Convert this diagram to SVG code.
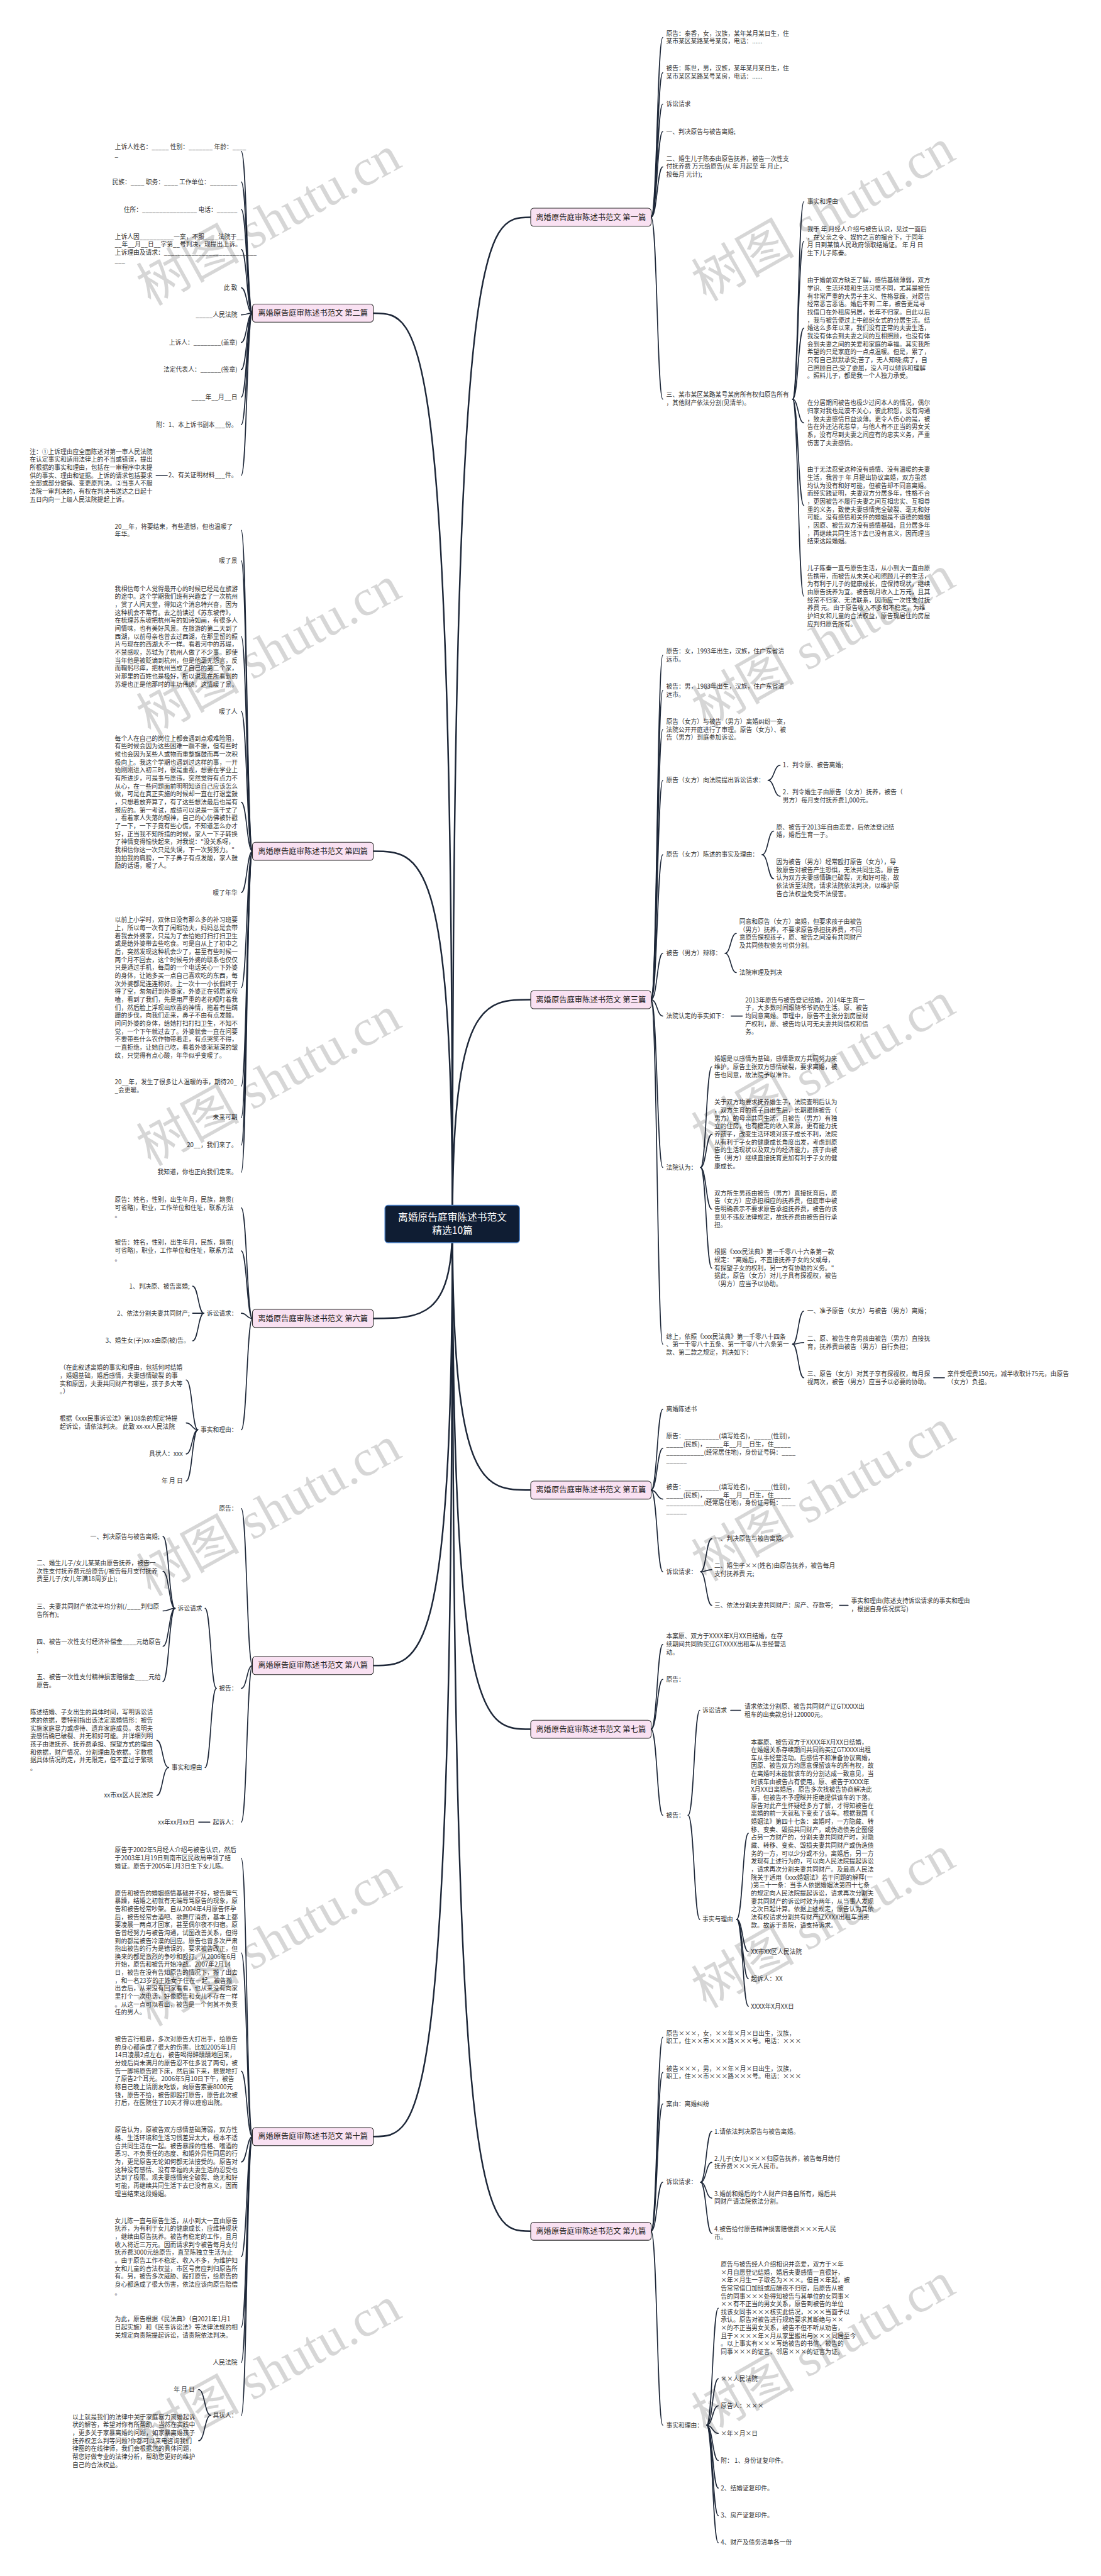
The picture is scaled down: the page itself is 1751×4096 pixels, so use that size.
<svg xmlns="http://www.w3.org/2000/svg" width="1751" height="4096" viewBox="0 0 1751 4096">
<style>
.t{font-family:"Noto Sans CJK SC","Noto Sans",sans-serif;font-size:14.3px;fill:#333}
.r{text-anchor:end}
.bn rect{fill:#f9e1f2;stroke:#2b2b2b;stroke-width:1.6}
.bn text{font-family:"Noto Sans CJK SC","Noto Sans",sans-serif;font-size:18px;fill:#222;text-anchor:middle}
#connectors path{fill:none;stroke:#1d2738;stroke-width:2.4;stroke-linecap:round}
#connectors path.m{stroke-width:3.6}
.wm{font-family:"Liberation Serif","Noto Sans CJK SC",serif;font-size:120px;fill:#000;fill-opacity:0.16}
</style>
<rect width="1751" height="4096" fill="#fff"/>
<g transform="scale(0.68398)">
<g id="connectors">
<path class="m" d="M1052,2846 C1052,505 1125,505 1234,505"/>
<path class="m" d="M1052,2846 C1052,2324 1125,2324 1234,2324"/>
<path class="m" d="M1052,2846 C1052,3464 1125,3464 1234,3464"/>
<path class="m" d="M1052,2846 C1052,4020 1125,4020 1234,4020"/>
<path class="m" d="M1052,2846 C1052,5187 1125,5187 1234,5187"/>
<path class="m" d="M1052,2846 C1052,728 978,728 868,728"/>
<path class="m" d="M1052,2846 C1052,1979 978,1979 868,1979"/>
<path class="m" d="M1052,2846 C1052,3065 978,3065 868,3065"/>
<path class="m" d="M1052,2846 C1052,3872 978,3872 868,3872"/>
<path class="m" d="M1052,2846 C1052,4967 978,4967 868,4967"/>
<!-- 第一篇 -->
<path d="M1514,505 C1528,505 1528,87 1541,87"/>
<path d="M1514,505 C1528,505 1528,169 1541,169"/>
<path d="M1514,505 C1528,505 1528,242 1541,242"/>
<path d="M1514,505 C1528,505 1528,306 1541,306"/>
<path d="M1514,505 C1528,505 1528,388 1541,388"/>
<path d="M1514,505 C1528,505 1528,928 1541,928"/>
<path d="M1843,928 C1856,928 1856,469 1869,469"/>
<path d="M1843,928 C1856,928 1856,561 1869,561"/>
<path d="M1843,928 C1856,928 1856,763 1869,763"/>
<path d="M1843,928 C1856,928 1856,983 1869,983"/>
<path d="M1843,928 C1856,928 1856,1175 1869,1175"/>
<path d="M1843,928 C1856,928 1856,1386 1869,1386"/>
<!-- 第三篇 -->
<path d="M1514,2324 C1528,2324 1528,1523 1541,1523"/>
<path d="M1514,2324 C1528,2324 1528,1605 1541,1605"/>
<path d="M1514,2324 C1528,2324 1528,1696 1541,1696"/>
<path d="M1514,2324 C1528,2324 1528,1814 1541,1814"/>
<path d="M1514,2324 C1528,2324 1528,1987 1541,1987"/>
<path d="M1514,2324 C1528,2324 1528,2216 1541,2216"/>
<path d="M1514,2324 C1528,2324 1528,2362 1541,2362"/>
<path d="M1514,2324 C1528,2324 1528,2714 1541,2714"/>
<path d="M1514,2324 C1528,2324 1528,3125 1541,3125"/>
<path d="M1786,1814 C1800,1814 1800,1779 1814,1779"/>
<path d="M1786,1814 C1800,1814 1800,1851 1814,1851"/>
<path d="M1772,1987 C1786,1987 1786,1932 1799,1932"/>
<path d="M1772,1987 C1786,1987 1786,2043 1799,2043"/>
<path d="M1686,2216 C1699,2216 1699,2170 1712,2170"/>
<path d="M1686,2216 C1699,2216 1699,2261 1712,2261"/>
<path d="M1700,2362 H1726"/>
<path d="M1629,2714 C1642,2714 1642,2480 1655,2480"/>
<path d="M1629,2714 C1642,2714 1642,2637 1655,2637"/>
<path d="M1629,2714 C1642,2714 1642,2811 1655,2811"/>
<path d="M1629,2714 C1642,2714 1642,2948 1655,2948"/>
<path d="M1843,3125 C1856,3125 1856,3048 1869,3048"/>
<path d="M1843,3125 C1856,3125 1856,3121 1869,3121"/>
<path d="M1843,3125 C1856,3125 1856,3203 1869,3203"/>
<path d="M2171,3203 H2196"/>
<!-- 第五篇 -->
<path d="M1514,3464 C1528,3464 1528,3276 1541,3276"/>
<path d="M1514,3464 C1528,3464 1528,3367 1541,3367"/>
<path d="M1514,3464 C1528,3464 1528,3485 1541,3485"/>
<path d="M1514,3464 C1528,3464 1528,3654 1541,3654"/>
<path d="M1629,3654 C1642,3654 1642,3577 1655,3577"/>
<path d="M1629,3654 C1642,3654 1642,3649 1655,3649"/>
<path d="M1629,3654 C1642,3654 1642,3732 1655,3732"/>
<path d="M1952,3732 H1972"/>
<!-- 第七篇 -->
<path d="M1514,4020 C1528,4020 1528,3823 1541,3823"/>
<path d="M1514,4020 C1528,4020 1528,3904 1541,3904"/>
<path d="M1514,4020 C1528,4020 1528,4220 1541,4220"/>
<path d="M1600,4220 C1614,4220 1614,3976 1627,3976"/>
<path d="M1600,4220 C1614,4220 1614,4462 1627,4462"/>
<path d="M1699,3976 H1722"/>
<path d="M1713,4462 C1727,4462 1727,4262 1740,4262"/>
<path d="M1713,4462 C1727,4462 1727,4537 1740,4537"/>
<path d="M1713,4462 C1727,4462 1727,4600 1740,4600"/>
<path d="M1713,4462 C1727,4462 1727,4664 1740,4664"/>
<!-- 第九篇 -->
<path d="M1514,5187 C1528,5187 1528,4736 1541,4736"/>
<path d="M1514,5187 C1528,5187 1528,4818 1541,4818"/>
<path d="M1514,5187 C1528,5187 1528,4891 1541,4891"/>
<path d="M1514,5187 C1528,5187 1528,5073 1541,5073"/>
<path d="M1514,5187 C1528,5187 1528,5638 1541,5638"/>
<path d="M1629,5073 C1642,5073 1642,4955 1655,4955"/>
<path d="M1629,5073 C1642,5073 1642,5027 1655,5027"/>
<path d="M1629,5073 C1642,5073 1642,5110 1655,5110"/>
<path d="M1629,5073 C1642,5073 1642,5192 1655,5192"/>
<path d="M1643,5638 C1657,5638 1657,5366 1670,5366"/>
<path d="M1643,5638 C1657,5638 1657,5530 1670,5530"/>
<path d="M1643,5638 C1657,5638 1657,5593 1670,5593"/>
<path d="M1643,5638 C1657,5638 1657,5657 1670,5657"/>
<path d="M1643,5638 C1657,5638 1657,5720 1670,5720"/>
<path d="M1643,5638 C1657,5638 1657,5784 1670,5784"/>
<path d="M1643,5638 C1657,5638 1657,5848 1670,5848"/>
<path d="M1643,5638 C1657,5638 1657,5911 1670,5911"/>
<!-- 第二篇 -->
<path d="M587,728 C574,728 574,352 561,352"/>
<path d="M587,728 C574,728 574,423 561,423"/>
<path d="M587,728 C574,728 574,487 561,487"/>
<path d="M587,728 C574,728 574,580 561,580"/>
<path d="M587,728 C574,728 574,669 561,669"/>
<path d="M587,728 C574,728 574,732 561,732"/>
<path d="M587,728 C574,728 574,796 561,796"/>
<path d="M587,728 C574,728 574,859 561,859"/>
<path d="M587,728 C574,728 574,923 561,923"/>
<path d="M587,728 C574,728 574,987 561,987"/>
<path d="M587,728 C574,728 574,1105 561,1105"/>
<path d="M389,1105 H363"/>
<!-- 第四篇 -->
<path d="M587,1979 C574,1979 574,1233 561,1233"/>
<path d="M587,1979 C574,1979 574,1304 561,1304"/>
<path d="M587,1979 C574,1979 574,1480 561,1480"/>
<path d="M587,1979 C574,1979 574,1654 561,1654"/>
<path d="M587,1979 C574,1979 574,1865 561,1865"/>
<path d="M587,1979 C574,1979 574,2075 561,2075"/>
<path d="M587,1979 C574,1979 574,2296 561,2296"/>
<path d="M587,1979 C574,1979 574,2525 561,2525"/>
<path d="M587,1979 C574,1979 574,2598 561,2598"/>
<path d="M587,1979 C574,1979 574,2662 561,2662"/>
<path d="M587,1979 C574,1979 574,2725 561,2725"/>
<!-- 第六篇 -->
<path d="M587,3065 C574,3065 574,2808 561,2808"/>
<path d="M587,3065 C574,3065 574,2908 561,2908"/>
<path d="M587,3065 C574,3065 574,3053 561,3053"/>
<path d="M587,3065 C574,3065 574,3324 561,3324"/>
<path d="M474,3053 C461,3053 461,2990 448,2990"/>
<path d="M474,3053 H448"/>
<path d="M474,3053 C461,3053 461,3117 448,3117"/>
<path d="M460,3324 C447,3324 447,3208 433,3208"/>
<path d="M460,3324 C447,3324 447,3308 433,3308"/>
<path d="M460,3324 C447,3324 447,3380 433,3380"/>
<path d="M460,3324 C447,3324 447,3443 433,3443"/>
<!-- 第八篇 -->
<path d="M587,3872 C574,3872 574,3507 561,3507"/>
<path d="M587,3872 C574,3872 574,3925 561,3925"/>
<path d="M587,3872 C574,3872 574,4236 561,4236"/>
<path d="M503,3925 C490,3925 490,3739 477,3739"/>
<path d="M503,3925 C490,3925 490,4109 477,4109"/>
<path d="M407,3739 C393,3739 393,3572 379,3572"/>
<path d="M407,3739 C393,3739 393,3653 379,3653"/>
<path d="M407,3739 C393,3739 393,3745 379,3745"/>
<path d="M407,3739 C393,3739 393,3827 379,3827"/>
<path d="M407,3739 C393,3739 393,3909 379,3909"/>
<path d="M392,4109 C378,4109 378,4046 365,4046"/>
<path d="M392,4109 C378,4109 378,4174 365,4174"/>
<path d="M488,4236 H462"/>
<!-- 第十篇 -->
<path d="M587,4967 C574,4967 574,4320 561,4320"/>
<path d="M587,4967 C574,4967 574,4540 561,4540"/>
<path d="M587,4967 C574,4967 574,4815 561,4815"/>
<path d="M587,4967 C574,4967 574,5026 561,5026"/>
<path d="M587,4967 C574,4967 574,5246 561,5246"/>
<path d="M587,4967 C574,4967 574,5410 561,5410"/>
<path d="M587,4967 C574,4967 574,5492 561,5492"/>
<path d="M587,4967 C574,4967 574,5615 561,5615"/>
<path d="M490,5615 C476,5615 476,5555 462,5555"/>
<path d="M490,5615 C476,5615 476,5674 462,5674"/>
</g>

<g id="center">
<rect x="895" y="2802" width="313" height="87" rx="7" fill="#0f1d33" stroke="#4f86cf" stroke-width="2"/>
<text x="1052" y="2838" font-family="Noto Sans CJK SC, sans-serif" font-size="23" fill="#fff" text-anchor="middle">离婚原告庭审陈述书范文</text>
<text x="1052" y="2869" font-family="Noto Sans CJK SC, sans-serif" font-size="23" fill="#fff" text-anchor="middle">精选10篇</text>
</g>

<g id="p1" class="bn"><rect x="1234" y="484" width="280" height="42" rx="7"/><text x="1374" y="511">离婚原告庭审陈述书范文 第一篇</text></g>
<g id="p3" class="bn"><rect x="1234" y="2303" width="280" height="42" rx="7"/><text x="1374" y="2330">离婚原告庭审陈述书范文 第三篇</text></g>
<g id="p5" class="bn"><rect x="1234" y="3443" width="280" height="42" rx="7"/><text x="1374" y="3470">离婚原告庭审陈述书范文 第五篇</text></g>
<g id="p7" class="bn"><rect x="1234" y="3999" width="280" height="42" rx="7"/><text x="1374" y="4026">离婚原告庭审陈述书范文 第七篇</text></g>
<g id="p9" class="bn"><rect x="1234" y="5166" width="280" height="42" rx="7"/><text x="1374" y="5193">离婚原告庭审陈述书范文 第九篇</text></g>
<g id="p2" class="bn"><rect x="587" y="707" width="281" height="42" rx="7"/><text x="727.5" y="734">离婚原告庭审陈述书范文 第二篇</text></g>
<g id="p4" class="bn"><rect x="587" y="1958" width="281" height="42" rx="7"/><text x="727.5" y="1985">离婚原告庭审陈述书范文 第四篇</text></g>
<g id="p6" class="bn"><rect x="587" y="3044" width="281" height="42" rx="7"/><text x="727.5" y="3071">离婚原告庭审陈述书范文 第六篇</text></g>
<g id="p8" class="bn"><rect x="587" y="3851" width="281" height="42" rx="7"/><text x="727.5" y="3878">离婚原告庭审陈述书范文 第八篇</text></g>
<g id="p10" class="bn"><rect x="587" y="4946" width="281" height="42" rx="7"/><text x="727.5" y="4973">离婚原告庭审陈述书范文 第十篇</text></g>

<g id="p1-children" class="t">
<g id="p1a"><text x="1549" y="83"><tspan x="1549">原告：秦香，女，汉族，某年某月某日生，住</tspan><tspan x="1549" dy="18.5">某市某区某路某号某房，电话：......</tspan></text></g>
<g id="p1b"><text x="1549" y="164"><tspan x="1549">被告：陈世，男，汉族，某年某月某日生，住</tspan><tspan x="1549" dy="18.5">某市某区某路某号某房，电话：......</tspan></text></g>
<g id="p1c"><text x="1549" y="247">诉讼请求</text></g>
<g id="p1d"><text x="1549" y="311">一、判决原告与被告离婚;</text></g>
<g id="p1e"><text x="1549" y="374"><tspan x="1549">二、婚生儿子陈秦由原告抚养，被告一次性支</tspan><tspan x="1549" dy="18.5">付抚养费 万元给原告(从 年 月起至 年 月止，</tspan><tspan x="1549" dy="18.5">按每月 元计);</tspan></text></g>
<g id="p1f"><text x="1549" y="923"><tspan x="1549">三、某市某区某路某号某房所有权归原告所有</tspan><tspan x="1549" dy="18.5">，其他财产依法分割(见清单)。</tspan></text></g>
<g id="p1f1"><text x="1877" y="474">事实和理由</text></g>
<g id="p1f2"><text x="1877" y="538"><tspan x="1877">我于 年 月经人介绍与被告认识，见过一面后</tspan><tspan x="1877" dy="18.5">，在父亲之令、媒妁之言的撮合下，于同年</tspan><tspan x="1877" dy="18.5">月 日到某镇人民政府领取结婚证。 年 月 日</tspan><tspan x="1877" dy="18.5">生下儿子陈秦。</tspan></text></g>
<g id="p1f3"><text x="1877" y="657"><tspan x="1877">由于婚前双方缺乏了解，感情基础薄弱，双方</tspan><tspan x="1877" dy="18.5">学识、生活环境和生活习惯不同，尤其是被告</tspan><tspan x="1877" dy="18.5">有非常严重的大男子主义、性格暴躁，对原告</tspan><tspan x="1877" dy="18.5">经常恶言恶语。婚后不到 二年，被告更是寻</tspan><tspan x="1877" dy="18.5">找借口在外租房另居，长年不归家。自此以后</tspan><tspan x="1877" dy="18.5">，我与被告便过上牛郎织女式的分居生活。结</tspan><tspan x="1877" dy="18.5">婚这么多年以来，我们没有正常的夫妻生活，</tspan><tspan x="1877" dy="18.5">我没有体会到夫妻之间的互相照顾，也没有体</tspan><tspan x="1877" dy="18.5">会到夫妻之间的关爱和家庭的幸福。其实我所</tspan><tspan x="1877" dy="18.5">希望的只是家庭的一点点温暖。但是，累了，</tspan><tspan x="1877" dy="18.5">只有自己默默承受;苦了，无人知晓;病了，自</tspan><tspan x="1877" dy="18.5">己照顾自己;受了委屈，没人可以倾诉和理解</tspan><tspan x="1877" dy="18.5">。照料儿子，都是我一个人独力承受。</tspan></text></g>
<g id="p1f4"><text x="1877" y="942"><tspan x="1877">在分居期间被告也极少过问本人的情况，偶尔</tspan><tspan x="1877" dy="18.5">归家对我也是漠不关心，彼此积怨，没有沟通</tspan><tspan x="1877" dy="18.5">，致夫妻感情日益淡薄。更令人伤心的是，被</tspan><tspan x="1877" dy="18.5">告在外还沾花惹草，与他人有不正当的男女关</tspan><tspan x="1877" dy="18.5">系，没有尽到夫妻之间应有的忠实义务，严重</tspan><tspan x="1877" dy="18.5">伤害了夫妻感情。</tspan></text></g>
<g id="p1f5"><text x="1877" y="1097"><tspan x="1877">由于无法忍受这种没有感情、没有温暖的夫妻</tspan><tspan x="1877" dy="18.5">生活，我曾于 年 月提出协议离婚，双方虽然</tspan><tspan x="1877" dy="18.5">均认为没有和好可能，但被告却不同意离婚。</tspan><tspan x="1877" dy="18.5">而经实践证明，夫妻双方分居多年，性格不合</tspan><tspan x="1877" dy="18.5">，更因被告不履行夫妻之间互相忠实、互相尊</tspan><tspan x="1877" dy="18.5">重的义务，致使夫妻感情完全破裂、毫无和好</tspan><tspan x="1877" dy="18.5">可能。没有感情和关怀的婚姻是不道德的婚姻</tspan><tspan x="1877" dy="18.5">，因原、被告双方没有感情基础，且分居多年</tspan><tspan x="1877" dy="18.5">，再继续共同生活下去已没有意义，因而理当</tspan><tspan x="1877" dy="18.5">结束这段婚姻。</tspan></text></g>
<g id="p1f6"><text x="1877" y="1326"><tspan x="1877">儿子陈秦一直与原告生活，从小到大一直由原</tspan><tspan x="1877" dy="18.5">告携带，而被告从未关心和照顾儿子的生活，</tspan><tspan x="1877" dy="18.5">为有利于儿子的健康成长，应保持现状，继续</tspan><tspan x="1877" dy="18.5">由原告抚养为宜。被告现月收入上万元，且其</tspan><tspan x="1877" dy="18.5">经常不归家、无法联系，因而应一次性支付抚</tspan><tspan x="1877" dy="18.5">养费 元。由于原告收入不多和不稳定，为维</tspan><tspan x="1877" dy="18.5">护妇女和儿童的合法权益，原告现居住的房屋</tspan><tspan x="1877" dy="18.5">应判归原告所有。</tspan></text></g>
</g>

<g id="p3-children" class="t">
<g id="p3a"><text x="1549" y="1519"><tspan x="1549">原告：女，1993年出生，汉族，住广东省清</tspan><tspan x="1549" dy="18.5">远市。</tspan></text></g>
<g id="p3b"><text x="1549" y="1601"><tspan x="1549">被告：男，1983年出生，汉族，住广东省清</tspan><tspan x="1549" dy="18.5">远市。</tspan></text></g>
<g id="p3c"><text x="1549" y="1683"><tspan x="1549">原告（女方）与被告（男方）离婚纠纷一案，</tspan><tspan x="1549" dy="18.5">法院公开开庭进行了审理。原告（女方）、被</tspan><tspan x="1549" dy="18.5">告（男方）到庭参加诉讼。</tspan></text></g>
<g id="p3d"><text x="1549" y="1819">原告（女方）向法院提出诉讼请求：</text></g>
<g id="p3d1"><text x="1820" y="1784">1．判令原、被告离婚;</text></g>
<g id="p3d2"><text x="1820" y="1847"><tspan x="1820">2．判令婚生子由原告（女方）抚养，被告（</tspan><tspan x="1820" dy="18.5">男方）每月支付抚养费1,000元。</tspan></text></g>
<g id="p3e"><text x="1549" y="1992">原告（女方）陈述的事实及理由：</text></g>
<g id="p3e1"><text x="1805" y="1928"><tspan x="1805">原、被告于2013年自由恋爱，后依法登记结</tspan><tspan x="1805" dy="18.5">婚，婚后生育一子。</tspan></text></g>
<g id="p3e2"><text x="1805" y="2009"><tspan x="1805">因为被告（男方）经常殴打原告（女方），导</tspan><tspan x="1805" dy="18.5">致原告对被告产生恐惧，无法共同生活。原告</tspan><tspan x="1805" dy="18.5">认为双方夫妻感情确已破裂，无和好可能，故</tspan><tspan x="1805" dy="18.5">依法诉至法院，请求法院依法判决，以维护原</tspan><tspan x="1805" dy="18.5">告合法权益免受不法侵害。</tspan></text></g>
<g id="p3f"><text x="1549" y="2221">被告（男方）辩称：</text></g>
<g id="p3f1"><text x="1719" y="2148"><tspan x="1719">同意和原告（女方）离婚，但要求孩子由被告</tspan><tspan x="1719" dy="18.5">（男方）抚养，不要求原告承担抚养费，不同</tspan><tspan x="1719" dy="18.5">意原告探视孩子，原、被告之间没有共同财产</tspan><tspan x="1719" dy="18.5">及共同债权债务可供分割。</tspan></text></g>
<g id="p3f2"><text x="1719" y="2266">法院审理及判决</text></g>
<g id="p3g"><text x="1549" y="2367">法院认定的事实如下：</text></g>
<g id="p3g1"><text x="1733" y="2330"><tspan x="1733">2013年原告与被告登记结婚，2014年生育一</tspan><tspan x="1733" dy="18.5">子，大多数时间跟随爷爷奶奶生活。原、被告</tspan><tspan x="1733" dy="18.5">均同意离婚。审理中，原告不主张分割房屋财</tspan><tspan x="1733" dy="18.5">产权利，原、被告均认可无夫妻共同债权和债</tspan><tspan x="1733" dy="18.5">务。</tspan></text></g>
<g id="p3h"><text x="1549" y="2719">法院认为：</text></g>
<g id="p3h1"><text x="1661" y="2467"><tspan x="1661">婚姻是以感情为基础，感情靠双方共同努力来</tspan><tspan x="1661" dy="18.5">维护。原告主张双方感情破裂，要求离婚，被</tspan><tspan x="1661" dy="18.5">告也同意，故法院予以准许。</tspan></text></g>
<g id="p3h2"><text x="1661" y="2568"><tspan x="1661">关于双方均要求抚养婚生子，法院查明后认为</tspan><tspan x="1661" dy="18.5">，双方生育的孩子自出生后，长期跟随被告（</tspan><tspan x="1661" dy="18.5">男方）的母亲共同生活，且被告（男方）有独</tspan><tspan x="1661" dy="18.5">立的住房，也有稳定的收入来源，更有能力抚</tspan><tspan x="1661" dy="18.5">养孩子，改变生活环境对孩子成长不利，法院</tspan><tspan x="1661" dy="18.5">从有利于子女的健康成长角度出发，考虑到原</tspan><tspan x="1661" dy="18.5">告的生活现状以及双方的经济能力，孩子由被</tspan><tspan x="1661" dy="18.5">告（男方）继续直接抚育更加有利于子女的健</tspan><tspan x="1661" dy="18.5">康成长。</tspan></text></g>
<g id="p3h3"><text x="1661" y="2779"><tspan x="1661">双方所生男孩由被告（男方）直接抚育后，原</tspan><tspan x="1661" dy="18.5">告（女方）应承担相应的抚养费，但庭审中被</tspan><tspan x="1661" dy="18.5">告明确表示不要求原告承担抚养费，被告的该</tspan><tspan x="1661" dy="18.5">意见不违反法律规定，故抚养费由被告自行承</tspan><tspan x="1661" dy="18.5">担。</tspan></text></g>
<g id="p3h4"><text x="1661" y="2916"><tspan x="1661">根据《xxx民法典》第一千零八十六条第一款</tspan><tspan x="1661" dy="18.5">规定：&quot;离婚后，不直接抚养子女的父或母，</tspan><tspan x="1661" dy="18.5">有探望子女的权利，另一方有协助的义务。&quot;</tspan><tspan x="1661" dy="18.5">据此，原告（女方）对儿子具有探视权，被告</tspan><tspan x="1661" dy="18.5">（男方）应当予以协助。</tspan></text></g>
<g id="p3i"><text x="1549" y="3112"><tspan x="1549">综上，依照《xxx民法典》第一千零八十四条</tspan><tspan x="1549" dy="18.5">、第一千零八十五条、第一千零八十六条第一</tspan><tspan x="1549" dy="18.5">款、第二款之规定，判决如下：</tspan></text></g>
<g id="p3i1"><text x="1877" y="3053">一、准予原告（女方）与被告（男方）离婚；</text></g>
<g id="p3i2"><text x="1877" y="3117"><tspan x="1877">二、原、被告生育男孩由被告（男方）直接抚</tspan><tspan x="1877" dy="18.5">育，抚养费由被告（男方）自行负担；</tspan></text></g>
<g id="p3i3"><text x="1877" y="3199"><tspan x="1877">三、原告（女方）对其子享有探视权，每月探</tspan><tspan x="1877" dy="18.5">视两次，被告（男方）应当予以必要的协助。</tspan></text></g>
<g id="p3i3a"><text x="2203" y="3199"><tspan x="2203">案件受理费150元，减半收取计75元，由原告</tspan><tspan x="2203" dy="18.5">（女方）负担。</tspan></text></g>
</g>

<g id="p5-children" class="t">
<g id="p5a"><text x="1549" y="3281">离婚陈述书</text></g>
<g id="p5b"><text x="1549" y="3344"><tspan x="1549">原告：__________(填写姓名)，_____(性别)，</tspan><tspan x="1549" dy="18.5">_____(民族)，_____年__月__日生，住_____</tspan><tspan x="1549" dy="18.5">___________(经常居住地)，身份证号码：____</tspan><tspan x="1549" dy="18.5">______</tspan></text></g>
<g id="p5c"><text x="1549" y="3462"><tspan x="1549">被告：__________(填写姓名)，_____(性别)，</tspan><tspan x="1549" dy="18.5">_____(民族)，_____年__月__日生，住_____</tspan><tspan x="1549" dy="18.5">___________(经常居住地)，身份证号码：____</tspan><tspan x="1549" dy="18.5">______</tspan></text></g>
<g id="p5d"><text x="1549" y="3659">诉讼请求：</text></g>
<g id="p5d1"><text x="1661" y="3582">一、判决原告与被告离婚;</text></g>
<g id="p5d2"><text x="1661" y="3645"><tspan x="1661">二、婚生子××(姓名)由原告抚养，被告每月</tspan><tspan x="1661" dy="18.5">支付抚养费 元;</tspan></text></g>
<g id="p5d3"><text x="1661" y="3737">三、依法分割夫妻共同财产：房产、存款等;</text></g>
<g id="p5d3a"><text x="1979" y="3727"><tspan x="1979">事实和理由(陈述支持诉讼请求的事实和理由</tspan><tspan x="1979" dy="18.5">，根据自身情况撰写)</tspan></text></g>
</g>

<g id="p7-children" class="t">
<g id="p7a"><text x="1549" y="3809"><tspan x="1549">本案原、双方于XXXX年X月XX日结婚，在存</tspan><tspan x="1549" dy="18.5">续期间共同购买辽GTXXXX出租车从事经营活</tspan><tspan x="1549" dy="18.5">动。</tspan></text></g>
<g id="p7b"><text x="1549" y="3909">原告：</text></g>
<g id="p7c"><text x="1549" y="4225">被告：</text></g>
<g id="p7c1"><text x="1633" y="3981">诉讼请求</text></g>
<g id="p7c1a"><text x="1731" y="3973"><tspan x="1731">请求依法分割原、被告共同财产辽GTXXXX出</tspan><tspan x="1731" dy="18.5">租车的出卖款总计120000元。</tspan></text></g>
<g id="p7c2"><text x="1633" y="4467">事实与理由</text></g>
<g id="p7c2a"><text x="1746" y="4055"><tspan x="1746">本案原、被告双方于XXXX年X月XX日结婚，</tspan><tspan x="1746" dy="18.5">在婚姻关系存续期间共同购买辽GTXXXX出租</tspan><tspan x="1746" dy="18.5">车从事经营活动。后感情不和准备协议离婚，</tspan><tspan x="1746" dy="18.5">因原、被告双方均愿意保留该车的所有权，故</tspan><tspan x="1746" dy="18.5">在离婚时未能就该车的分割达成一致意见，当</tspan><tspan x="1746" dy="18.5">时该车由被告占有使用。原、被告于XXXX年</tspan><tspan x="1746" dy="18.5">X月XX日离婚后，原告多次找被告协商解决此</tspan><tspan x="1746" dy="18.5">事，但被告不予理睬并拒绝提供该车的下落。</tspan><tspan x="1746" dy="18.5">原告对此产生怀疑经多方了解，才得知被告在</tspan><tspan x="1746" dy="18.5">离婚的前一天就私下变卖了该车。根据我国《</tspan><tspan x="1746" dy="18.5">婚姻法》第四十七条：离婚时，一方隐藏、转</tspan><tspan x="1746" dy="18.5">移、变卖、毁损共同财产，或伪造债务企图侵</tspan><tspan x="1746" dy="18.5">占另一方财产的，分割夫妻共同财产时，对隐</tspan><tspan x="1746" dy="18.5">藏、转移、变卖、毁损夫妻共同财产或伪造债</tspan><tspan x="1746" dy="18.5">务的一方，可以少分或不分。离婚后，另一方</tspan><tspan x="1746" dy="18.5">发现有上述行为的，可以向人民法院提起诉讼</tspan><tspan x="1746" dy="18.5">，请求再次分割夫妻共同财产。及最高人民法</tspan><tspan x="1746" dy="18.5">院关于适用《xxx婚姻法》若干问题的解释(一</tspan><tspan x="1746" dy="18.5">)第三十一条：当事人依据婚姻法第四十七条</tspan><tspan x="1746" dy="18.5">的规定向人民法院提起诉讼，请求再次分割夫</tspan><tspan x="1746" dy="18.5">妻共同财产的诉讼时效为两年，从当事人发现</tspan><tspan x="1746" dy="18.5">之次日起计算。依据上述规定，原告认为其依</tspan><tspan x="1746" dy="18.5">法有权请求分割共有财产辽XXXX出租车出卖</tspan><tspan x="1746" dy="18.5">款。故诉于贵院，请支持诉求。</tspan></text></g>
<g id="p7c2b"><text x="1746" y="4542">XX市XX区人民法院</text></g>
<g id="p7c2c"><text x="1746" y="4605">起诉人：XX</text></g>
<g id="p7c2d"><text x="1746" y="4669">XXXX年X月XX日</text></g>
</g>

<g id="p9-children" class="t">
<g id="p9a"><text x="1549" y="4732"><tspan x="1549">原告×××，女，××年×月×日出生，汉族，</tspan><tspan x="1549" dy="18.5">职工，住××市×××路×××号。电话：×××</tspan></text></g>
<g id="p9b"><text x="1549" y="4814"><tspan x="1549">被告×××，男，××年×月×日出生，汉族，</tspan><tspan x="1549" dy="18.5">职工，住××市×××路×××号。电话：×××</tspan></text></g>
<g id="p9c"><text x="1549" y="4896">案由：离婚纠纷</text></g>
<g id="p9d"><text x="1549" y="5078">诉讼请求：</text></g>
<g id="p9d1"><text x="1661" y="4960">1.请依法判决原告与被告离婚。</text></g>
<g id="p9d2"><text x="1661" y="5023"><tspan x="1661">2.儿子(女儿)×××归原告抚养，被告每月给付</tspan><tspan x="1661" dy="18.5">抚养费×××元人民币。</tspan></text></g>
<g id="p9d3"><text x="1661" y="5105"><tspan x="1661">3.婚前和婚后的个人财产归各自所有，婚后共</tspan><tspan x="1661" dy="18.5">同财产请法院依法分割。</tspan></text></g>
<g id="p9d4"><text x="1661" y="5188"><tspan x="1661">4.被告给付原告精神损害赔偿费×××元人民</tspan><tspan x="1661" dy="18.5">币。</tspan></text></g>
<g id="p9e"><text x="1549" y="5643">事实和理由：</text></g>
<g id="p9e1"><text x="1676" y="5269"><tspan x="1676">原告与被告经人介绍相识并恋爱，双方于×年</tspan><tspan x="1676" dy="18.5">×月自愿登记结婚，婚后夫妻感情一直很好，</tspan><tspan x="1676" dy="18.5">×年×月生一子取名为×××。但自×年起，被</tspan><tspan x="1676" dy="18.5">告常常借口加班或应酬夜不归宿，后原告从被</tspan><tspan x="1676" dy="18.5">告的同事×××处得知被告与其单位的女同事×</tspan><tspan x="1676" dy="18.5">××有不正当的男女关系，原告到被告的单位</tspan><tspan x="1676" dy="18.5">找该女同事×××核实此情况，×××当面予以</tspan><tspan x="1676" dy="18.5">承认。原告对被告进行规劝要求其断绝与××</tspan><tspan x="1676" dy="18.5">×的不正当男女关系，被告不但不听从劝告，</tspan><tspan x="1676" dy="18.5">且于××××年×月从家里搬出与×××同居至今</tspan><tspan x="1676" dy="18.5">。以上事实有×××写给被告的书信、被告的</tspan><tspan x="1676" dy="18.5">同事×××的证言、邻居×××的证言为证。</tspan></text></g>
<g id="p9e2"><text x="1676" y="5535">××人民法院</text></g>
<g id="p9e3"><text x="1676" y="5598">原告人：×××</text></g>
<g id="p9e4"><text x="1676" y="5662">×年×月×日</text></g>
<g id="p9e5"><text x="1676" y="5725">附：  1、身份证复印件。</text></g>
<g id="p9e6"><text x="1676" y="5789">2、结婚证复印件。</text></g>
<g id="p9e7"><text x="1676" y="5853">3、房产证复印件。</text></g>
<g id="p9e8"><text x="1676" y="5916">4、财产及债务清单各一份</text></g>
</g>

<g id="p2-children" class="t">
<g id="p2a"><text x="267" y="346"><tspan x="267">上诉人姓名：_____ 性别：_______ 年龄：____</tspan><tspan x="267" dy="18.5">_</tspan></text></g>
<g id="p2b"><text class="r" x="552" y="428">民族：____ 职务：____ 工作单位：________</text></g>
<g id="p2c"><text class="r" x="552" y="492">住所：________________ 电话：______</text></g>
<g id="p2d"><text x="267" y="555"><tspan x="267">上诉人因__________一案，不服____法院于__</tspan><tspan x="267" dy="18.5">__年__月__日__字第__号判决，现提出上诉。</tspan><tspan x="267" dy="18.5">上诉理由及请求：___________________________</tspan><tspan x="267" dy="18.5">___</tspan></text></g>
<g id="p2e"><text class="r" x="552" y="674">此 致</text></g>
<g id="p2f"><text class="r" x="552" y="737">_____人民法院</text></g>
<g id="p2g"><text class="r" x="552" y="801">上诉人：________(盖章)</text></g>
<g id="p2h"><text class="r" x="552" y="864">法定代表人：______(签章)</text></g>
<g id="p2i"><text class="r" x="552" y="928">____年__月__日</text></g>
<g id="p2j"><text class="r" x="552" y="992">附：1、本上诉书副本___份。</text></g>
<g id="p2k"><text class="r" x="552" y="1110">2、有关证明材料___件。</text></g>
<g id="p2k1"><text x="69" y="1055"><tspan x="69">注：①上诉理由应全面陈述对第一审人民法院</tspan><tspan x="69" dy="18.5">在认定事实和适用法律上的不当或错误，提出</tspan><tspan x="69" dy="18.5">所根据的事实和理由，包括在一审程序中未提</tspan><tspan x="69" dy="18.5">供的事实、理由和证据。上诉的请求包括要求</tspan><tspan x="69" dy="18.5">全部或部分撤销、变更原判决。②当事人不服</tspan><tspan x="69" dy="18.5">法院一审判决的，有权在判决书送达之日起十</tspan><tspan x="69" dy="18.5">五日内向一上级人民法院提起上诉。</tspan></text></g>
</g>

<g id="p4-children" class="t">
<g id="p4a"><text x="267" y="1229"><tspan x="267">20__年，将要结束，有些遗憾，但也温暖了</tspan><tspan x="267" dy="18.5">年华。</tspan></text></g>
<g id="p4b"><text class="r" x="552" y="1309">暖了景</text></g>
<g id="p4c"><text x="267" y="1374"><tspan x="267">我相信每个人觉得最开心的时候已经是在旅游</tspan><tspan x="267" dy="18.5">的途中。这个学期我们班有兴趣去了一次杭州</tspan><tspan x="267" dy="18.5">，赏了人间天堂，得知这个消息特兴奋，因为</tspan><tspan x="267" dy="18.5">这种机会不常有。去之前读过《苏东坡传》，</tspan><tspan x="267" dy="18.5">在梳理苏东坡把杭州写的如诗如画，有很多人</tspan><tspan x="267" dy="18.5">间情味，也有美好风景。在旅游的第二天到了</tspan><tspan x="267" dy="18.5">西湖，以前母亲也曾去过西湖，在那里留的照</tspan><tspan x="267" dy="18.5">片与现在的西湖大不一样。看着河中的苏堤，</tspan><tspan x="267" dy="18.5">不禁感叹，苏轼为了杭州人做了不少事。即使</tspan><tspan x="267" dy="18.5">当年他是被贬谪到杭州，但是他毫无怨言，反</tspan><tspan x="267" dy="18.5">而鞠躬尽瘁，把杭州当成了自己的第二个家，</tspan><tspan x="267" dy="18.5">对那里的百姓也是极好，所以说现在所看到的</tspan><tspan x="267" dy="18.5">苏堤也正是他那时的丰功伟绩。这情暖了景。</tspan></text></g>
<g id="p4d"><text class="r" x="552" y="1659">暖了人</text></g>
<g id="p4e"><text x="267" y="1722"><tspan x="267">每个人在自己的岗位上都会遇到点艰难险阻，</tspan><tspan x="267" dy="18.5">有些时候会因为这些困难一蹶不振，但有些时</tspan><tspan x="267" dy="18.5">候也会因为某些人或物而重整旗鼓而再一次积</tspan><tspan x="267" dy="18.5">极向上。我这个学期也遇到过这样的事，一开</tspan><tspan x="267" dy="18.5">始刚刚进入初三时，很是重视，想要在学业上</tspan><tspan x="267" dy="18.5">有所进步，可是事与愿违，突然觉得有点力不</tspan><tspan x="267" dy="18.5">从心，在一些问题面前明明知道自己应该怎么</tspan><tspan x="267" dy="18.5">做，可是在真正实施的时候却一直在打退堂鼓</tspan><tspan x="267" dy="18.5">，只想着放弃算了，有了这些想法最后也是有</tspan><tspan x="267" dy="18.5">报应的。第一考试，成绩可以说是一落千丈了</tspan><tspan x="267" dy="18.5">，看着家人失落的眼神，自己的心仿佛被针戳</tspan><tspan x="267" dy="18.5">了一下，一下子竟有些心慌，不知道怎么办才</tspan><tspan x="267" dy="18.5">好，正当我不知所措的时候，家人一下子转换</tspan><tspan x="267" dy="18.5">了神情变得愉快起来，对我说：&quot;没关系呀，</tspan><tspan x="267" dy="18.5">我相信你这一次只是失误，下一次努努力。&quot;</tspan><tspan x="267" dy="18.5">拍拍我的肩膀，一下子鼻子有点发酸，家人鼓</tspan><tspan x="267" dy="18.5">励的话语，暖了人。</tspan></text></g>
<g id="p4f"><text class="r" x="552" y="2080">暖了年华</text></g>
<g id="p4g"><text x="267" y="2144"><tspan x="267">以前上小学时，双休日没有那么多的补习班要</tspan><tspan x="267" dy="18.5">上，所以每一次有了闲暇功夫，妈妈总是会带</tspan><tspan x="267" dy="18.5">着我去外婆家，只是为了去给她打扫打扫卫生</tspan><tspan x="267" dy="18.5">或是给外婆带去些吃食。可是自从上了初中之</tspan><tspan x="267" dy="18.5">后，突然发现这种机会少了，甚至有些时候一</tspan><tspan x="267" dy="18.5">两个月不回去，这个时候与外婆的联系也仅仅</tspan><tspan x="267" dy="18.5">只是通过手机，每周的一个电话关心一下外婆</tspan><tspan x="267" dy="18.5">的身体，让她多买一点自己喜欢吃的东西，每</tspan><tspan x="267" dy="18.5">次外婆都是连连称好。上一次十一小长假终于</tspan><tspan x="267" dy="18.5">得了空，匆匆赶到外婆家，外婆正在邻居家唠</tspan><tspan x="267" dy="18.5">嗑，看到了我们，先是用严重的老花眼盯着我</tspan><tspan x="267" dy="18.5">们，然后脸上浮现出欣喜的神情，拖着有些蹒</tspan><tspan x="267" dy="18.5">跚的步伐，向我们走来，鼻子不由有点发酸。</tspan><tspan x="267" dy="18.5">问问外婆的身体，给她打扫打扫卫生，不知不</tspan><tspan x="267" dy="18.5">觉，一个下午就过去了。外婆就会一直在问要</tspan><tspan x="267" dy="18.5">不要带些什么农作物带着走，有点哭笑不得，</tspan><tspan x="267" dy="18.5">一直拒绝，让她自己吃，看着外婆渐渐深的皱</tspan><tspan x="267" dy="18.5">纹，只觉得有点心酸，年华似乎变暖了。</tspan></text></g>
<g id="p4h"><text x="267" y="2521"><tspan x="267">20__年，发生了很多让人温暖的事，期待20_</tspan><tspan x="267" dy="18.5">_会更暖。</tspan></text></g>
<g id="p4i"><text class="r" x="552" y="2603">未来可期</text></g>
<g id="p4j"><text class="r" x="552" y="2667">20__，我们来了。</text></g>
<g id="p4k"><text class="r" x="552" y="2730">我知道，你也正向我们走来。</text></g>
</g>

<g id="p6-children" class="t">
<g id="p6a"><text x="267" y="2794"><tspan x="267">原告：姓名，性别，出生年月，民族，籍贯(</tspan><tspan x="267" dy="18.5">可省略)，职业，工作单位和住址，联系方法</tspan><tspan x="267" dy="18.5">。</tspan></text></g>
<g id="p6b"><text x="267" y="2894"><tspan x="267">被告：姓名，性别，出生年月，民族，籍贯(</tspan><tspan x="267" dy="18.5">可省略)，职业，工作单位和住址，联系方法</tspan><tspan x="267" dy="18.5">。</tspan></text></g>
<g id="p6c"><text class="r" x="552" y="3058">诉讼请求：</text></g>
<g id="p6c1"><text class="r" x="441" y="2995">1、判决原、被告离婚;</text></g>
<g id="p6c2"><text class="r" x="441" y="3058">2、依法分割夫妻共同财产;</text></g>
<g id="p6c3"><text class="r" x="441" y="3122">3、婚生女(子)xx-x由原(被)告。</text></g>
<g id="p6d"><text class="r" x="552" y="3329">事实和理由：</text></g>
<g id="p6d1"><text x="139" y="3185"><tspan x="139">（在此叙述离婚的事实和理由，包括何时结婚</tspan><tspan x="139" dy="18.5">，婚姻基础，婚后感情，夫妻感情破裂 的事</tspan><tspan x="139" dy="18.5">实和原因，夫妻共同财产有哪些，孩子多大等</tspan><tspan x="139" dy="18.5">。）</tspan></text></g>
<g id="p6d2"><text x="139" y="3303"><tspan x="139">根据《xxx民事诉讼法》第108条的规定特提</tspan><tspan x="139" dy="18.5">起诉讼，请依法判决。 此致 xx-xx人民法院</tspan></text></g>
<g id="p6d3"><text class="r" x="425" y="3385">具状人：xxx</text></g>
<g id="p6d4"><text class="r" x="425" y="3448">年 月 日</text></g>
</g>

<g id="p8-children" class="t">
<g id="p8a"><text class="r" x="552" y="3512">原告：</text></g>
<g id="p8b"><text class="r" x="552" y="3930">被告：</text></g>
<g id="p8b1"><text class="r" x="470" y="3744">诉讼请求</text></g>
<g id="p8b1a"><text class="r" x="371" y="3577">一、判决原告与被告离婚;</text></g>
<g id="p8b1b"><text x="85" y="3639"><tspan x="85">二、婚生儿子/女儿某某由原告抚养，被告一</tspan><tspan x="85" dy="18.5">次性支付抚养费元给原告(/被告每月支付抚养</tspan><tspan x="85" dy="18.5">费至儿子/女儿年满18周岁止);</tspan></text></g>
<g id="p8b1c"><text x="85" y="3740"><tspan x="85">三、夫妻共同财产依法平均分割(/____判归原</tspan><tspan x="85" dy="18.5">告所有);</tspan></text></g>
<g id="p8b1d"><text x="85" y="3822"><tspan x="85">四、被告一次性支付经济补偿金____元给原告</tspan><tspan x="85" dy="18.5">;</tspan></text></g>
<g id="p8b1e"><text x="85" y="3904"><tspan x="85">五、被告一次性支付精神损害赔偿金____元给</tspan><tspan x="85" dy="18.5">原告。</tspan></text></g>
<g id="p8b2"><text class="r" x="470" y="4114">事实和理由</text></g>
<g id="p8b2a"><text x="70" y="3986"><tspan x="70">陈述结婚、子女出生的具体时间，写明诉讼请</tspan><tspan x="70" dy="18.5">求的依据，要特别指出该法定离婚情形：被告</tspan><tspan x="70" dy="18.5">实施家庭暴力或虐待、遗弃家庭成员。表明夫</tspan><tspan x="70" dy="18.5">妻感情确已破裂、并无和好可能。并详细列明</tspan><tspan x="70" dy="18.5">孩子由谁抚养、抚养费承担、探望方式的理由</tspan><tspan x="70" dy="18.5">和依据，财产情况、分割理由及依据。字数根</tspan><tspan x="70" dy="18.5">据具体情况酌定，并无限定，但不宜过于繁琐</tspan><tspan x="70" dy="18.5">。</tspan></text></g>
<g id="p8b2b"><text class="r" x="356" y="4179">xx市xx区人民法院</text></g>
<g id="p8c"><text class="r" x="552" y="4241">起诉人：</text></g>
<g id="p8c1"><text class="r" x="453" y="4241">xx年xx月xx日</text></g>
</g>

<g id="p10-children" class="t">
<g id="p10a"><text x="267" y="4306"><tspan x="267">原告于2002年5月经人介绍与被告认识，然后</tspan><tspan x="267" dy="18.5">于2003年1月19日到南市区民政局申领了结</tspan><tspan x="267" dy="18.5">婚证。原告于2005年1月3日生下女儿陈。</tspan></text></g>
<g id="p10b"><text x="267" y="4406"><tspan x="267">原告和被告的婚姻感情基础并不好，被告脾气</tspan><tspan x="267" dy="18.5">暴躁，结婚之初就有无端辱骂原告的现象，原</tspan><tspan x="267" dy="18.5">告和被告经常吵架。自从2004年4月原告怀孕</tspan><tspan x="267" dy="18.5">后，被告经常去酒吧、歌舞厅消费，基本上都</tspan><tspan x="267" dy="18.5">要凌晨一两点才回家，甚至偶尔夜不归宿。原</tspan><tspan x="267" dy="18.5">告曾经努力与被告沟通，试图改善关系，但得</tspan><tspan x="267" dy="18.5">到的都是被告冷漠的回应。原告也曾多次严肃</tspan><tspan x="267" dy="18.5">指出被告的行为是错误的，要求被告改正，但</tspan><tspan x="267" dy="18.5">换来的都是激烈的争吵和殴打。从2006年6月</tspan><tspan x="267" dy="18.5">开始，原告和被告开始冷战。2007年2月14</tspan><tspan x="267" dy="18.5">日，被告在没有告知原告的情况下，搬了出去</tspan><tspan x="267" dy="18.5">，和一名23岁的王姓女子住在一起。被告搬</tspan><tspan x="267" dy="18.5">出去后，从来没有回家看看，也从来没有向家</tspan><tspan x="267" dy="18.5">里打个一次电话，好像原告和女儿不存在一样</tspan><tspan x="267" dy="18.5">。从这一点可以看出，被告是一个何其不负责</tspan><tspan x="267" dy="18.5">任的男人。</tspan></text></g>
<g id="p10c"><text x="267" y="4746"><tspan x="267">被告言行粗暴，多次对原告大打出手，给原告</tspan><tspan x="267" dy="18.5">的身心都造成了很大的伤害。比如2005年1月</tspan><tspan x="267" dy="18.5">14日凌晨2点左右，被告喝得醉醺醺地回来，</tspan><tspan x="267" dy="18.5">分娩后尚未满月的原告忍不住多说了两句，被</tspan><tspan x="267" dy="18.5">告一脚将原告蹬下床，然后追下来，狠狠地打</tspan><tspan x="267" dy="18.5">了原告2个耳光。2006年5月10日下午，被告</tspan><tspan x="267" dy="18.5">称自己晚上请朋友吃饭，向原告索要8000元</tspan><tspan x="267" dy="18.5">钱，原告不给，被告即殴打原告，原告此次被</tspan><tspan x="267" dy="18.5">打后，在医院住了10天才得以痊愈出院。</tspan></text></g>
<g id="p10d"><text x="267" y="4957"><tspan x="267">原告认为，原被告双方感情基础薄弱，双方性</tspan><tspan x="267" dy="18.5">格、生活环境和生活习惯差异太大，根本不适</tspan><tspan x="267" dy="18.5">合共同生活在一起。被告暴躁的性格、嗜酒的</tspan><tspan x="267" dy="18.5">恶习、不负责任的态度、和婚外异性同居的行</tspan><tspan x="267" dy="18.5">为，更是原告无论如何都无法接受的。原告对</tspan><tspan x="267" dy="18.5">这种没有感情、没有幸福的夫妻生活的忍受也</tspan><tspan x="267" dy="18.5">达到了极限。现夫妻感情完全破裂、绝无和好</tspan><tspan x="267" dy="18.5">可能，再继续共同生活下去已没有意义，因而</tspan><tspan x="267" dy="18.5">理当结束这段婚姻。</tspan></text></g>
<g id="p10e"><text x="267" y="5168"><tspan x="267">女儿陈一直与原告生活，从小到大一直由原告</tspan><tspan x="267" dy="18.5">抚养，为有利于女儿的健康成长，应维持现状</tspan><tspan x="267" dy="18.5">，继续由原告抚养。被告有稳定的工作，且月</tspan><tspan x="267" dy="18.5">收入将近三万元。因而请求判令被告每月支付</tspan><tspan x="267" dy="18.5">抚养费3000元给原告，直至陈独立生活为止</tspan><tspan x="267" dy="18.5">。由于原告工作不稳定、收入不多，为维护妇</tspan><tspan x="267" dy="18.5">女和儿童的合法权益，市区号房应判归原告所</tspan><tspan x="267" dy="18.5">有。另，被告多次威胁、殴打原告，给原告的</tspan><tspan x="267" dy="18.5">身心都造成了很大伤害，依法应该向原告赔偿</tspan><tspan x="267" dy="18.5">。</tspan></text></g>
<g id="p10f"><text x="267" y="5397"><tspan x="267">为此，原告根据《民法典》（自2021年1月1</tspan><tspan x="267" dy="18.5">日起实施）和《民事诉讼法》等法律法规的相</tspan><tspan x="267" dy="18.5">关规定向贵院提起诉讼，请贵院依法判决。</tspan></text></g>
<g id="p10g"><text class="r" x="552" y="5497">人民法院</text></g>
<g id="p10h"><text class="r" x="552" y="5620">具状人：</text></g>
<g id="p10h1"><text class="r" x="453" y="5560">年 月 日</text></g>
<g id="p10h2"><text x="168" y="5624"><tspan x="168">以上就是我们的法律中关于家庭暴力离婚起诉</tspan><tspan x="168" dy="18.5">状的解答，希望对你有所帮助。当然在实践中</tspan><tspan x="168" dy="18.5">，更多关于家暴离婚的问题，如家暴离婚孩子</tspan><tspan x="168" dy="18.5">抚养权怎么判等问题?你都可以来电咨询我们</tspan><tspan x="168" dy="18.5">律图的在线律师，我们会根据您的具体问题，</tspan><tspan x="168" dy="18.5">帮您好做专业的法律分析，帮助您更好的维护</tspan><tspan x="168" dy="18.5">自己的合法权益。</tspan></text></g>
</g>

<g id="watermark" class="wm">
<text x="350" y="712" transform="rotate(-29 350 712)">树图 shutu.cn</text>
<text x="350" y="1712" transform="rotate(-29 350 1712)">树图 shutu.cn</text>
<text x="350" y="2712" transform="rotate(-29 350 2712)">树图 shutu.cn</text>
<text x="350" y="3712" transform="rotate(-29 350 3712)">树图 shutu.cn</text>
<text x="350" y="4712" transform="rotate(-29 350 4712)">树图 shutu.cn</text>
<text x="350" y="5712" transform="rotate(-29 350 5712)">树图 shutu.cn</text>
<text x="1642" y="702" transform="rotate(-29.7 1642 702)">树图 shutu.cn</text>
<text x="1642" y="1694" transform="rotate(-29.7 1642 1694)">树图 shutu.cn</text>
<text x="1642" y="2686" transform="rotate(-29.7 1642 2686)">树图 shutu.cn</text>
<text x="1642" y="3678" transform="rotate(-29.7 1642 3678)">树图 shutu.cn</text>
<text x="1642" y="4670" transform="rotate(-29.7 1642 4670)">树图 shutu.cn</text>
<text x="1642" y="5662" transform="rotate(-29.7 1642 5662)">树图 shutu.cn</text>
</g>
</g>
</svg>
